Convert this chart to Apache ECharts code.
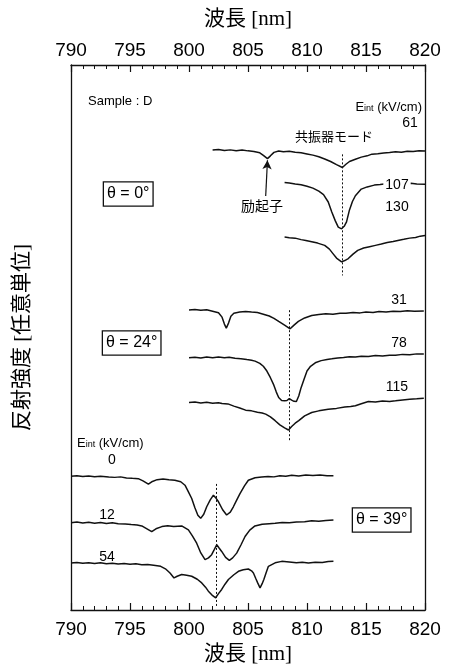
<!DOCTYPE html>
<html><head><meta charset="utf-8">
<script src="https://cdn.jsdelivr.net/npm/echarts@6/dist/echarts.min.js"></script>
<style>html,body{margin:0;padding:0;background:#fff}#c{width:450px;height:670px}</style>
</head><body><div id="c"></div>
<script>
// wavelength ticks
const xTicks = [790, 795, 800, 805, 810, 815, 820];
const xTitle = '波長 [nm]';
const yTitle = '反射強度 [任意単位]';
// reflectance spectra [wavelength nm, intensity (arb. units, vertically offset)]
// theta = 0 deg
const t0_E61 = [[802.0,463.3],[802.5,463.8],[803.0,462.9],[803.5,463.5],[804.0,462.6],[804.5,463.4],[805.0,462.5],[805.5,461.8],[806.0,460.5],[806.3,458],[806.65,454.7],[806.9,457.5],[807.2,461],[807.6,462.3],[808.0,461.6],[808.5,462.2],[809.0,461.2],[809.5,460.6],[810.0,459.4],[810.5,458.2],[811.0,456.6],[811.5,454.3],[812.0,451.8],[812.5,448.6],[813.0,445.7],[813.3,449],[813.6,451.8],[814.1,454],[814.6,456.2],[815.1,457.5],[815.5,459.2],[816.0,459.6],[816.5,460.3],[817.0,460.8],[817.5,461.6],[818.0,461.0],[818.5,462.2],[819.0,461.8],[819.5,462.6],[820.0,462.3]];
const t0_E107 = [[808.1,430.7],[808.5,430.2],[809.0,429.1],[809.5,428.3],[810.0,426.8],[810.5,425.0],[811.0,422.0],[811.4,418.5],[811.8,411],[812.1,401],[812.4,392],[812.65,385.7],[812.93,384],[813.15,386.5],[813.35,391],[813.6,403],[813.85,411.5],[814.1,417.3],[814.6,424],[815.1,426.2],[815.7,428],[816.2,428.6],[816.7,429.3],[817.2,428.8],[817.7,429.6],[818.2,429.1],[818.8,430],[819.3,429.2],[820.0,429]];
const t0_E130 = [[808.1,375.7],[808.5,375.0],[809.0,374.6],[809.5,373.1],[809.9,372.3],[810.4,371.0],[810.9,369.6],[811.5,367.3],[811.9,363.5],[812.2,359],[812.5,354.5],[812.93,350.7],[813.2,352],[813.5,354],[813.9,358.5],[814.3,362.3],[814.8,364.6],[815.3,366.0],[815.8,367.3],[816.3,368.6],[816.8,370.1],[817.3,371.2],[817.7,372.3],[818.2,373.4],[818.7,374.6],[819.2,375.3],[819.6,376.6],[820.0,377.3]];
// theta = 24 deg
const t24_E31 = [[800.0,302.3],[800.5,302.8],[801.0,301.9],[801.5,302.4],[802.0,301.0],[802.5,299.5],[802.8,295],[803.0,288],[803.16,284],[803.35,289],[803.55,296],[803.8,299],[804.3,300.2],[804.8,300.7],[805.3,300.1],[805.8,299.6],[806.3,298],[806.8,296.2],[807.2,293.8],[807.6,290.7],[808.1,287],[808.57,283.3],[808.9,287],[809.27,290.7],[809.8,294.2],[810.4,296.7],[811.0,297.6],[811.6,298.4],[812.2,298.0],[812.8,298.9],[813.3,299],[813.9,299.7],[814.5,299.3],[815.0,300.2],[815.6,299.8],[816.1,300.7],[816.7,300.2],[817.3,301.0],[817.9,300.6],[818.5,301.4],[819.1,300.9],[819.9,301.3]];
const t24_E78 = [[800.0,254],[800.5,254.6],[801.0,253.8],[801.5,254.9],[802.0,254.1],[802.5,254.8],[803.0,254.2],[803.4,254.7],[803.9,253.6],[804.4,253.2],[804.9,252.3],[805.3,251.6],[805.6,250.7],[806.0,248.4],[806.3,245.5],[806.6,240.7],[806.9,234],[807.16,227.3],[807.4,219.5],[807.6,214],[807.85,211],[808.1,210.7],[808.3,211],[808.5,213],[808.7,211.5],[808.9,210.2],[809.1,210],[809.3,215.5],[809.5,224],[809.75,232.5],[810.0,240.7],[810.3,245.5],[810.7,249],[811.2,251.2],[811.7,252.3],[812.1,253],[812.6,253.9],[813.1,254.3],[813.6,255.2],[814.1,254.9],[814.6,255.7],[815.2,255.4],[815.8,256.3],[816.4,255.9],[817.0,256.6],[817.5,256.7],[818.1,257.5],[818.7,257.1],[819.3,258.0],[819.9,258]];
const t24_E115 = [[800.0,209],[800.5,209.5],[801.0,208.6],[801.5,209.2],[802.0,208.3],[802.5,208.8],[802.8,208],[803.3,207.6],[803.8,205.4],[804.3,203.5],[804.8,201.3],[805.3,200.6],[805.8,199.2],[806.2,198.4],[806.5,197.3],[806.9,194.6],[807.3,190.7],[807.7,186.5],[808.1,183.4],[808.43,181.3],[808.7,184.8],[809.0,188.2],[809.3,190.7],[809.8,195.6],[810.4,199],[811.0,200.6],[811.8,202.3],[812.5,203.1],[813.2,204.6],[813.7,204.9],[814.1,205.7],[814.6,207.8],[815.2,210],[815.8,209.6],[816.4,210.5],[817.0,210.1],[817.5,210.7],[818.1,211.6],[818.7,212.2],[819.3,212.7],[819.9,213.3]];
// theta = 39 deg
const t39_E0 = [[790.0,134.7],[790.5,135.3],[791.0,134.4],[791.5,135.1],[792.0,134.2],[792.5,134.8],[793.2,134],[793.7,133.6],[794.2,134.1],[794.7,133.0],[795.2,132.6],[795.7,132.3],[796.1,130],[796.56,126.7],[796.9,129.5],[797.3,131.3],[797.8,131.9],[798.3,131.1],[798.8,130.7],[799.3,129.2],[799.66,125.7],[799.95,119],[800.23,112.3],[800.5,103],[800.75,95.5],[800.99,92.3],[801.25,96.5],[801.5,104],[801.8,111],[802.07,115.7],[802.3,112.5],[802.5,109],[802.85,101],[803.19,95.7],[803.5,98.5],[803.76,104],[804.05,111],[804.32,117.3],[804.7,125],[805.03,130.7],[805.6,133.2],[806.16,134],[806.7,134.6],[807.2,134.1],[807.7,135.3],[808.2,134.8],[808.7,135.7],[809.3,135.1],[809.9,136.0],[810.5,135.4],[811.1,135.9],[811.7,135.2],[812.24,135.3]];
const t39_E12 = [[790.0,88],[790.5,88.6],[791.0,87.7],[791.5,88.4],[792.0,87.5],[792.5,88.2],[793.0,87.1],[793.5,87.8],[794.0,86.9],[794.6,86.7],[795.1,86.1],[795.6,85.6],[796.0,84.7],[796.4,82],[796.84,79],[797.2,81.8],[797.7,84],[798.2,84.9],[798.7,84.2],[799.38,84.7],[799.95,80.7],[800.3,74.5],[800.65,67.3],[801.0,57.5],[801.36,50.7],[801.65,52.5],[801.92,55.7],[802.15,61],[802.35,65.7],[802.55,62.5],[802.77,59],[803.1,53],[803.42,50],[803.7,52.5],[804.04,57.3],[804.4,65.5],[804.75,74],[805.15,80.5],[805.59,84.7],[806.2,86.3],[806.8,86.9],[807.3,87.3],[807.9,88.2],[808.5,87.8],[809.1,88.7],[809.8,89],[810.4,89.8],[811.0,89.4],[811.6,90.2],[812.24,90.7]];
const t39_E54 = [[790.0,47.3],[790.5,47.9],[791.0,47.0],[791.5,47.7],[792.0,46.8],[792.5,47.5],[793.0,46.6],[793.5,47.2],[794.0,46.3],[794.5,46.9],[795.0,46.1],[795.5,46.5],[796.0,45.7],[796.5,45.9],[797.0,45.1],[797.6,44.0],[798.0,41.5],[798.39,37.3],[798.73,32.3],[799.0,34],[799.38,35.7],[799.8,35.1],[800.23,34],[800.7,31],[801.08,27.3],[801.4,23],[801.64,19],[801.95,15],[802.26,12.3],[802.5,16.5],[802.77,20.7],[803.05,26],[803.34,30.7],[803.8,35.5],[804.19,39],[804.6,40.6],[805.03,41.3],[805.3,39.5],[805.46,37.3],[805.65,32],[805.82,27.3],[806.02,22.3],[806.2,26.5],[806.35,31],[806.55,38],[806.73,44],[807.3,47.5],[807.86,49],[808.5,48.4],[809.1,47.6],[809.6,48.1],[810.12,47.3],[810.7,48.2],[811.3,47.8],[811.8,48.9],[812.24,49]];
// resonator-mode guide lines [wavelength, from, to]
const modeLines = [[813.0, 459, 337], [808.5, 302, 171], [802.35, 127, 4]];
// exciton arrow [from, to]
const excitonArrow = [[806.5, 417], [806.65, 453]];

const chart = echarts.init(document.getElementById('c'), null, {renderer: 'canvas'});
const SANS = "'Liberation Sans', Arial, sans-serif";
const SERIF = "'Liberation Serif', 'Noto Sans CJK JP', serif";
const CJK = "'Noto Sans CJK JP', sans-serif";

const spectra = [t0_E61, t0_E107, t0_E130, t24_E31, t24_E78, t24_E115, t39_E0, t39_E12, t39_E54];
const series = spectra.map(d => ({
  type: 'line', data: d, symbol: 'none', silent: true,
  lineStyle: {color: '#111', width: 1.5}, xAxisIndex: 0, yAxisIndex: 0
}));
series.push({
  type: 'line', data: [], symbol: 'none', silent: true,
  markLine: {
    silent: true, symbol: ['none', 'none'], label: {show: false},
    lineStyle: {color: '#111', width: 1, type: [2, 2]},
    data: modeLines.map(m => [{coord: [m[0], m[1]]}, {coord: [m[0], m[2]]}])
  }
});
series.push({
  type: 'line', data: [], symbol: 'none', silent: true,
  markLine: {
    silent: true, symbol: ['none', 'arrow'], symbolSize: [7, 9], label: {show: false},
    lineStyle: {color: '#111', width: 1.2, type: 'solid'},
    data: [[{coord: excitonArrow[0]}, {coord: excitonArrow[1]}]]
  }
});

function xAxis(pos, gap, margin) {
  return {
    type: 'value', min: xTicks[0], max: xTicks[xTicks.length - 1], interval: 5, position: pos,
    axisLine: {show: true, onZero: false, lineStyle: {color: '#111', width: 1.3}},
    axisTick: {show: true, inside: true, length: 7, lineStyle: {color: '#111', width: 1.2}},
    minorTick: {show: true, splitNumber: 5, length: 4, lineStyle: {color: '#111', width: 1}},
    splitLine: {show: false}, minorSplitLine: {show: false},
    axisLabel: {show: true, color: '#000', fontSize: 19, fontFamily: SANS, margin: margin},
    name: xTitle, nameLocation: 'middle', nameGap: gap,
    nameTextStyle: {color: '#000', fontSize: 21, fontFamily: SERIF}
  };
}

function eint(x, y, align) {
  return {type: 'text', x: x, y: y, z: 100, style: {
    text: '{a|E}{s|int}{a| (kV/cm)}', align: align, verticalAlign: 'middle',
    rich: {a: {fontSize: 13, fontFamily: SANS, fill: '#000', verticalAlign: 'bottom', lineHeight: 15},
           s: {fontSize: 9, fontFamily: SANS, fill: '#000', verticalAlign: 'bottom', lineHeight: 11, padding: [3, 0, 0, 0]}}
  }};
}
function txt(t, x, y, opts) {
  return {type: 'text', x: x, y: y, z: 100, style: Object.assign({
    text: t, fontSize: 14, fontFamily: SANS, fill: '#000', align: 'center', verticalAlign: 'middle'
  }, opts || {})};
}
function boxed(t, x, y) {
  return txt(t, x, y, {fontSize: 16, borderColor: '#111', borderWidth: 1.3, padding: [4, 3, 3, 3], align: 'left', backgroundColor: '#fff'});
}

chart.setOption({
  animation: false,
  backgroundColor: '#fff',
  grid: {left: 71, right: 25, top: 65, bottom: 56, containLabel: false},
  xAxis: [xAxis('bottom', 34, 10), xAxis('top', 35, 5)],
  yAxis: [{
    type: 'value', min: 0, max: 549, position: 'left',
    axisLine: {show: true, onZero: false, lineStyle: {color: '#111', width: 1.3}},
    axisTick: {show: false}, axisLabel: {show: false}, splitLine: {show: false},
    name: yTitle, nameLocation: 'middle', nameGap: 38, nameRotate: 90,
    nameTextStyle: {color: '#000', fontSize: 21, fontFamily: SERIF}
  }, {
    type: 'value', min: 0, max: 549, position: 'right',
    axisLine: {show: true, onZero: false, lineStyle: {color: '#111', width: 1.3}},
    axisTick: {show: false}, axisLabel: {show: false}, splitLine: {show: false}
  }],
  series: series,
  graphic: [
    txt('Sample : D', 88, 101, {align: 'left', fontSize: 13}),
    eint(422, 106, 'right'),
    txt('61', 410, 123),
    txt('共振器モード', 334, 136, {fontFamily: CJK, fontSize: 13}),
    txt('107', 397, 185, {backgroundColor: '#fff', padding: [0, 2, 0, 2]}),
    txt('130', 397, 207),
    txt('励起子', 262, 206, {fontFamily: CJK, fontSize: 14}),
    boxed('θ = 0°', 104, 194),
    txt('31', 399, 300),
    txt('78', 399, 343),
    txt('115', 397, 387),
    boxed('θ = 24°', 103, 343),
    eint(77, 442, 'left'),
    txt('0', 112, 460),
    txt('12', 107, 515),
    txt('54', 107, 557),
    boxed('θ = 39°', 353, 520)
  ]
});
</script></body></html>
